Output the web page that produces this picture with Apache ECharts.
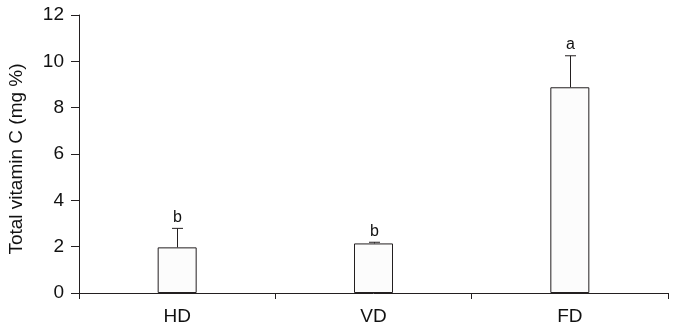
<!DOCTYPE html>
<html>
<head>
<meta charset="utf-8">
<script src="https://cdn.jsdelivr.net/npm/echarts@6/dist/echarts.min.js"></script>
<style>
html,body{margin:0;padding:0;background:#fff;}
#chart{width:677px;height:331px;}
</style>
</head>
<body>
<div id="chart"></div>
<script>
var categories = ['HD', 'VD', 'FD'];
var means = [1.97, 2.14, 8.88];
var errors = [0.82, 0.05, 1.36];
var letters = ['b', 'b', 'a'];
var yTicks = [0, 2, 4, 6, 8, 10, 12];

var FONT = '"Liberation Sans", Arial, sans-serif';
var TXT = '#111';
var chart = echarts.init(document.getElementById('chart'));
var errData = categories.map(function (c, i) { return [i, means[i], errors[i], letters[i]]; });

chart.setOption({
  animation: false,
  backgroundColor: '#fff',
  grid: { left: 79, right: 9, top: 15, bottom: 38, containLabel: false, outerBoundsMode: 'none' },
  xAxis: {
    type: 'category',
    data: categories,
    boundaryGap: true,
    axisLine: { lineStyle: { color: '#231f20', width: 1 } },
    axisTick: { show: true, interval: 0, length: 6, inside: false, lineStyle: { color: '#231f20' } },
    axisLabel: { color: TXT, fontSize: 19, fontFamily: FONT, margin: 14 }
  },
  yAxis: {
    type: 'value',
    min: yTicks[0],
    max: yTicks[yTicks.length - 1],
    interval: 2,
    name: 'Total vitamin C (mg %)',
    nameLocation: 'middle',
    nameGap: 53,
    nameTextStyle: { color: TXT, fontSize: 19, fontFamily: FONT, padding: [0, 10, 0, 0] },
    splitLine: { show: false },
    axisLine: { show: true, lineStyle: { color: '#231f20', width: 1 } },
    axisTick: { show: true, length: 8, lineStyle: { color: '#231f20' } },
    axisLabel: { color: TXT, fontSize: 19, fontFamily: FONT, margin: 15 }
  },
  series: [
    {
      type: 'bar',
      data: means,
      barWidth: 39,
      itemStyle: { color: '#fcfcfc', borderColor: '#231f20', borderWidth: 1 }
    },
    {
      type: 'custom',
      data: errData,
      z: 5,
      renderItem: function (params, api) {
        var i = api.value(0), m = api.value(1), e = api.value(2);
        var base = api.coord([i, m]);
        var top = api.coord([i, m + e]);
        var x = Math.round(base[0]) + 0.5;
        var capHalf = 5.5;
        return {
          type: 'group',
          children: [
            { type: 'line', shape: { x1: x, y1: base[1], x2: x, y2: top[1] }, style: { stroke: '#231f20', lineWidth: 1 } },
            { type: 'line', shape: { x1: x - capHalf, y1: top[1], x2: x + capHalf, y2: top[1] }, style: { stroke: '#231f20', lineWidth: 1 } },
            { type: 'text', style: { text: letters[params.dataIndex], x: x, y: top[1] - 3, textAlign: 'center', textVerticalAlign: 'bottom', fill: TXT, fontSize: 16, fontFamily: FONT } }
          ]
        };
      }
    }
  ]
});
</script>
</body>
</html>
